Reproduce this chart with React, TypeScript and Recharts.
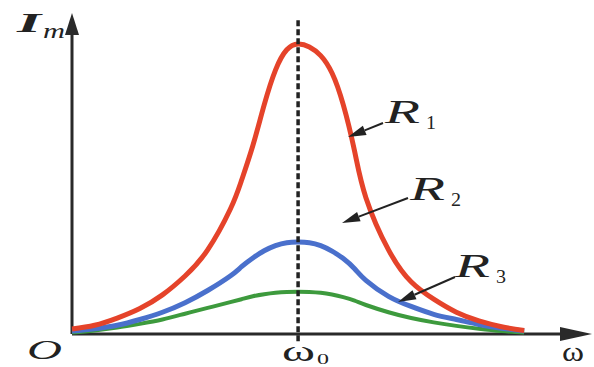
import React from 'react';
import { LineChart, Line, XAxis, YAxis, ReferenceLine, ReferenceDot } from 'recharts';

// angular frequency, omega0 = 1
const OMEGA = [0, 0.1, 0.2, 0.3, 0.4, 0.5, 0.6, 0.7, 0.75, 0.8, 0.85, 0.9, 0.95, 1.0, 1.05, 1.1, 1.15, 1.2, 1.25, 1.3, 1.4, 1.5, 1.6, 1.7, 1.8, 1.9, 2.0];
// current amplitude Im for R1 < R2 < R3
const R1 = [0.017, 0.03, 0.055, 0.088, 0.135, 0.2, 0.29, 0.43, 0.53, 0.65, 0.79, 0.91, 0.98, 1.0, 0.99, 0.96, 0.9, 0.79, 0.63, 0.47, 0.29, 0.18, 0.12, 0.075, 0.045, 0.025, 0.012];
const R2 = [0.01, 0.018, 0.03, 0.05, 0.075, 0.108, 0.15, 0.2, 0.232, 0.262, 0.287, 0.305, 0.315, 0.317, 0.315, 0.305, 0.286, 0.26, 0.225, 0.185, 0.13, 0.095, 0.068, 0.05, 0.033, 0.02, 0.01];
const R3 = [0.005, 0.012, 0.022, 0.035, 0.05, 0.07, 0.09, 0.11, 0.12, 0.13, 0.137, 0.142, 0.145, 0.146, 0.145, 0.142, 0.136, 0.127, 0.115, 0.1, 0.075, 0.055, 0.04, 0.028, 0.018, 0.01, 0.005];

const data = OMEGA.map((w, i) => ({ w, r1: R1[i], r2: R2[i], r3: R3[i] }));

const AXIS = '#2a2a2a';
const SERIF = '"Liberation Serif", "DejaVu Serif", serif';

const UpArrow = (p: any) => (
  <polygon points={`${p.cx},${p.cy - 2} ${p.cx - 7},${p.cy + 20} ${p.cx + 7},${p.cy + 20}`} fill={AXIS} />
);
const RightArrow = (p: any) => (
  <polygon points={`${p.cx},${p.cy} ${p.cx - 32},${p.cy - 7} ${p.cx - 32},${p.cy + 7}`} fill={AXIS} />
);

const Pointer = ({ x1, y1, x2, y2 }: { x1: number; y1: number; x2: number; y2: number }) => {
  const a = Math.atan2(y2 - y1, x2 - x1);
  const L = 18, W = 5;
  const bx = x2 - L * Math.cos(a), by = y2 - L * Math.sin(a);
  const nx = -Math.sin(a) * W, ny = Math.cos(a) * W;
  return (
    <g>
      <line x1={x1} y1={y1} x2={bx} y2={by} stroke="#222" strokeWidth={2} />
      <polygon points={`${x2},${y2} ${bx + nx},${by + ny} ${bx - nx},${by - ny}`} fill="#222" />
    </g>
  );
};

const RLabel = ({ x, y, n }: { x: number; y: number; n: string }) => (
  <g fontFamily={SERIF} fill="#222">
    <text x={x} y={y} fontSize={33} fontStyle="italic" textLength={35} lengthAdjust="spacingAndGlyphs">R</text>
    <text x={x + 41} y={y + 6} fontSize={19} textLength={10} lengthAdjust="spacingAndGlyphs">{n}</text>
  </g>
);

export default function App() {
  return (
    <div style={{ position: 'absolute', left: 0, top: 0, width: 594, height: 367, background: '#fff' }}>
      <LineChart width={594} height={367} data={data} margin={{ top: 15, right: 2, bottom: 33, left: 72 }}>
        <XAxis dataKey="w" type="number" domain={[0, 2.3]} hide />
        <YAxis type="number" domain={[0, 1.1]} hide />
        <ReferenceLine segment={[{ x: 0, y: 0 }, { x: 2.2, y: 0 }]} stroke={AXIS} strokeWidth={3} ifOverflow="visible" />
        <ReferenceLine segment={[{ x: 0, y: 0 }, { x: 0, y: 1.05 }]} stroke={AXIS} strokeWidth={3} ifOverflow="visible" />
        <Line type="natural" dataKey="r3" stroke="#3d9a3d" strokeWidth={4} dot={false} isAnimationActive={false} />
        <Line type="natural" dataKey="r2" stroke="#4a70cc" strokeWidth={5} dot={false} isAnimationActive={false} />
        <Line type="natural" dataKey="r1" stroke="#e5432a" strokeWidth={5} dot={false} isAnimationActive={false} />
        <ReferenceLine segment={[{ x: 1, y: -0.025 }, { x: 1, y: 1.09 }]} stroke="#222" strokeWidth={3.5}
          strokeDasharray="6 3" ifOverflow="visible" />
        <ReferenceDot x={0} y={1.1} r={0} shape={UpArrow} ifOverflow="visible" />
        <ReferenceDot x={2.3} y={0} r={0} shape={RightArrow} ifOverflow="visible" />
      </LineChart>
      <svg width={594} height={367} style={{ position: 'absolute', left: 0, top: 0, pointerEvents: 'none' }}>
        <g fontFamily={SERIF} fill="#222">
          <text x={17} y={32} fontSize={28} fontWeight="bold" fontStyle="italic" textLength={24} lengthAdjust="spacingAndGlyphs">I</text>
          <text x={43} y={38} fontSize={21} fontStyle="italic" textLength={22} lengthAdjust="spacingAndGlyphs">m</text>
          <text x={27} y={359} fontSize={27} fontStyle="italic" textLength={35} lengthAdjust="spacingAndGlyphs">O</text>
          <text x={282} y={361} fontSize={30} textLength={33} lengthAdjust="spacingAndGlyphs">ω</text>
          <text x={317} y={364} fontSize={15} textLength={12} lengthAdjust="spacingAndGlyphs">0</text>
          <text x={562} y={361} fontSize={28} textLength={22} lengthAdjust="spacingAndGlyphs">ω</text>
        </g>
        <RLabel x={385} y={123} n="1" />
        <RLabel x={410} y={200} n="2" />
        <RLabel x={455} y={277} n="3" />
        <Pointer x1={383} y1={123} x2={348} y2={137} />
        <Pointer x1={408} y1={198} x2={342} y2={223} />
        <Pointer x1={455} y1={277} x2={398} y2={302} />
      </svg>
    </div>
  );
}
